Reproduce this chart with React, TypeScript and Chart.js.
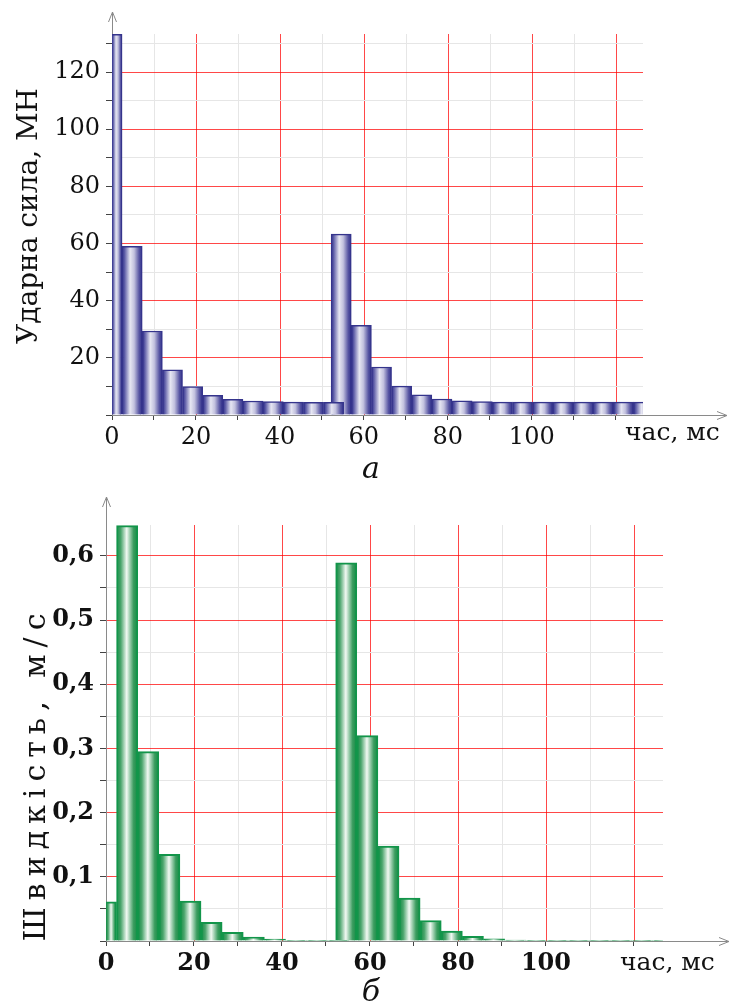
import React, { useEffect, useRef } from 'react';
import { Chart, registerables } from 'chart.js';

Chart.register(...registerables);

// ---- data (time in ms, bar centres) ----
const centersFirst = [0, 4.8, 9.6, 14.4, 19.2, 24, 28.8, 33.6, 38.4, 43.2, 48, 52.8];
const centersSecond = [54.6, 59.4, 64.2, 69.0, 73.8, 78.6, 83.4, 88.2, 93.0, 97.8, 102.6, 107.4, 112.2, 117.0, 121.8, 126.6];

// Ударна сила, МН
const forceFirst = [133.2, 59.0, 29.4, 15.8, 9.9, 6.9, 5.5, 4.9, 4.7, 4.5, 4.4, 4.4];
const forceSecond = [63.3, 31.4, 16.8, 10.1, 7.1, 5.6, 5.0, 4.7, 4.5, 4.5, 4.5, 4.5, 4.5, 4.5, 4.5, 4.5];

// Швидкість, м/с
const speedFirst = [0.061, 0.647, 0.295, 0.135, 0.062, 0.029, 0.0135, 0.006, 0.003, 0.0012, 0.0004, 0.0002];
const speedSecond = [0.589, 0.32, 0.148, 0.067, 0.032, 0.0155, 0.0073, 0.0035, 0.0015, 0.0006, 0.0003, 0.0002, 0.0002, 0.0002, 0.0002, 0.0002];

const xTickLabels = ['0', '20', '40', '60', '80', '100'];
const forceTickLabels = ['20', '40', '60', '80', '100', '120'];
const speedTickLabels = ['0,1', '0,2', '0,3', '0,4', '0,5', '0,6'];

const RED = 'rgba(255,0,0,0.72)';
const GRAY = '#e6e6e6';
const AXIS = '#8a8a8a';
const TICK = '#444';

type Spec = {
  width: number;
  height: number;
  area: { left: number; right: number; top: number; bottom: number };
  xMax: number;
  yMax: number;
  yStep: number;
  yFormat: (v: number) => string;
  yLabels: string[];
  first: number[];
  second: number[];
  border: string;
  borderWidth: number;
  stops: [number, string][];
  tickFont: any;
  title: string;
  titleFont: string;
  titleSpacing: string;
  titleX: number;
  titleY: number;
  caption: string;
  captionX: number;
  captionY: number;
  unitX: number;
  unitY: number;
  unitFont: string;
  arrowTop: number;
  arrowRight: number;
};

function buildConfig(s: Spec): any {
  const step = centersFirst[1] - centersFirst[0];
  const fill = (ctx: any) => {
    const fallback = s.stops[2][1];
    if (ctx.type !== 'data' || !ctx.raw) return fallback;
    const sc = ctx.chart.scales && ctx.chart.scales.x;
    if (!sc) return fallback;
    const p0 = sc.getPixelForValue(0);
    const p1 = sc.getPixelForValue(step);
    const cx = sc.getPixelForValue(ctx.raw.x);
    if (![p0, p1, cx].every((v) => Number.isFinite(v)) || p1 - p0 <= 0) return fallback;
    const half = (p1 - p0) / 2;
    const left = Math.max(cx - half, p0);
    const g = ctx.chart.ctx.createLinearGradient(left, 0, cx + half, 0);
    for (const [o, c] of s.stops) g.addColorStop(o, c);
    return g;
  };
  const dsCommon = {
    type: 'bar',
    backgroundColor: fill,
    borderColor: s.border,
    borderWidth: s.borderWidth,
    categoryPercentage: 1,
    barPercentage: 1,
    grouped: false,
    clip: { left: 0, right: 0, top: 4, bottom: 4 },
  };
  const xTickValue = (v: number) => Math.round(v);
  const yIdx = (v: number) => Math.round(v / s.yStep);

  // vertical grid lines, taken from the x scale's own ticks
  const vgrid = {
    id: 'vgrid',
    beforeDraw(chart: any) {
      const sc = chart.scales.x;
      const a = chart.chartArea;
      if (!sc || !a) return;
      const { ctx } = chart;
      ctx.save();
      ctx.lineWidth = 1;
      for (const pass of [false, true]) {
        for (const t of sc.ticks) {
          const v = xTickValue(t.value);
          if (v === 0) continue;
          const major = v % 20 === 0;
          if (major !== pass) continue;
          const px = Math.round(sc.getPixelForValue(t.value)) + 0.5;
          ctx.strokeStyle = major ? RED : GRAY;
          ctx.beginPath();
          ctx.moveTo(px, a.top);
          ctx.lineTo(px, a.bottom);
          ctx.stroke();
        }
      }
      ctx.restore();
    },
  };

  const decor = {
    id: 'decor',
    afterDraw(chart: any) {
      const { ctx, chartArea: a } = chart;
      ctx.save();
      ctx.strokeStyle = AXIS;
      ctx.lineWidth = 1;
      const lx = Math.round(a.left) + 0.5;
      const by = Math.round(a.bottom) + 0.5;
      ctx.beginPath();
      ctx.moveTo(lx, a.top);
      ctx.lineTo(lx, s.arrowTop);
      ctx.moveTo(lx - 4, s.arrowTop + 10);
      ctx.lineTo(lx, s.arrowTop);
      ctx.lineTo(lx + 4, s.arrowTop + 10);
      ctx.moveTo(a.right, by);
      ctx.lineTo(s.arrowRight, by);
      ctx.moveTo(s.arrowRight - 10, by - 4);
      ctx.lineTo(s.arrowRight, by);
      ctx.lineTo(s.arrowRight - 10, by + 4);
      ctx.stroke();

      ctx.fillStyle = '#111';
      ctx.save();
      ctx.translate(s.titleX, s.titleY);
      ctx.rotate(-Math.PI / 2);
      ctx.font = s.titleFont;
      (ctx as any).letterSpacing = s.titleSpacing;
      ctx.textAlign = 'center';
      ctx.textBaseline = 'middle';
      ctx.fillText(s.title, 0, 0);
      ctx.restore();
      ctx.font = s.unitFont;
      ctx.textAlign = 'left';
      ctx.textBaseline = 'middle';
      ctx.fillText('час, мс', s.unitX, s.unitY);
      ctx.font = 'italic 30px "DejaVu Serif"';
      ctx.textAlign = 'center';
      ctx.fillText(s.caption, s.captionX, s.captionY);
      ctx.restore();
    },
  };

  return {
    type: 'bar',
    data: {
      datasets: [
        { ...dsCommon, xAxisID: 'x', data: centersFirst.map((x, i) => ({ x, y: s.first[i] })) },
        { ...dsCommon, xAxisID: 'x2', data: centersSecond.map((x, i) => ({ x, y: s.second[i] })) },
      ],
    },
    options: {
      animation: false,
      responsive: false,
      devicePixelRatio: 1,
      events: [],
      layout: { padding: { top: s.area.top, right: s.width - s.area.right, left: 0, bottom: 0 } },
      plugins: { legend: { display: false }, tooltip: { enabled: false } },
      scales: {
        x: {
          type: 'linear',
          min: 0,
          max: s.xMax,
          offset: false,
          afterFit: (sc: any) => {
            sc.height = s.height - s.area.bottom;
          },
          grid: {
            offset: false,
            drawOnChartArea: false,
            drawTicks: true,
            lineWidth: 1,
            tickLength: 5,
            tickColor: TICK,
            color: TICK,
          },
          border: { display: true, color: AXIS, width: 1 },
          ticks: {
            stepSize: 10,
            includeBounds: false,
            autoSkip: false,
            maxRotation: 0,
            padding: 3,
            color: '#111',
            font: s.tickFont,
            callback: (v: number) => {
              const t = String(xTickValue(v));
              return xTickLabels.includes(t) ? t : '';
            },
          },
        },
        x2: {
          type: 'linear',
          display: false,
          min: 0,
          max: s.xMax,
          offset: false,
          grid: { offset: false, display: false, drawOnChartArea: false, drawTicks: false },
          border: { display: false },
          ticks: { display: false },
        },
        y: {
          type: 'linear',
          min: 0,
          max: s.yMax,
          afterFit: (sc: any) => {
            sc.width = s.area.left;
          },
          grid: {
            lineWidth: 1,
            tickLength: 6,
            tickColor: TICK,
            color: (c: any) => {
              const i = yIdx(c.tick.value);
              if (i === 0) return 'rgba(0,0,0,0)';
              return i % 2 === 0 ? RED : GRAY;
            },
          },
          border: { display: true, color: AXIS, width: 1 },
          ticks: {
            stepSize: s.yStep,
            includeBounds: false,
            autoSkip: false,
            padding: 6,
            color: '#111',
            font: s.tickFont,
            callback: (v: number) => {
              const i = yIdx(v);
              if (i % 2 !== 0) return '';
              const t = s.yFormat(i * s.yStep);
              return s.yLabels.includes(t) ? t : '';
            },
          },
        },
      },
    },
    plugins: [vgrid, decor],
  };
}

const forceSpec: Spec = {
  width: 731,
  height: 490,
  area: { left: 112, right: 643, top: 34, bottom: 415 },
  xMax: 126.5,
  yMax: 133.3,
  yStep: 10,
  yFormat: (v) => String(Math.round(v)),
  yLabels: forceTickLabels,
  first: forceFirst,
  second: forceSecond,
  border: '#35348c',
  borderWidth: 1.5,
  stops: [
    [0, '#30308a'],
    [0.12, '#5b5aa6'],
    [0.4, '#e6e6f2'],
    [0.6, '#c2c1de'],
    [0.85, '#5654a2'],
    [1, '#30308a'],
  ],
  tickFont: { family: 'DejaVu Serif', size: 24 },
  title: 'Ударна сила, МН',
  titleFont: '28px "DejaVu Serif"',
  titleSpacing: '0px',
  titleX: 30,
  titleY: 216,
  caption: 'а',
  captionX: 371,
  captionY: 470,
  unitX: 625,
  unitY: 433,
  unitFont: '25px "DejaVu Serif"',
  arrowTop: 12,
  arrowRight: 727,
};

const speedSpec: Spec = {
  width: 731,
  height: 517,
  area: { left: 106, right: 663, top: 35, bottom: 451 },
  xMax: 126.6,
  yMax: 0.648,
  yStep: 0.05,
  yFormat: (v) => v.toFixed(1).replace('.', ','),
  yLabels: speedTickLabels,
  first: speedFirst,
  second: speedSecond,
  border: '#12954a',
  borderWidth: 2,
  stops: [
    [0, '#128a42'],
    [0.2, '#4aa56c'],
    [0.48, '#f2f9f3'],
    [0.8, '#3c9d60'],
    [1, '#128a42'],
  ],
  tickFont: { family: 'DejaVu Serif', size: 24, weight: 'bold' },
  title: 'Швидкість, м/с',
  titleFont: '30px "DejaVu Serif"',
  titleSpacing: '7px',
  titleX: 37,
  titleY: 284,
  caption: 'б',
  captionX: 371,
  captionY: 503,
  unitX: 620,
  unitY: 473,
  unitFont: '25px "DejaVu Serif"',
  arrowTop: 7,
  arrowRight: 729,
};

function ChartBox({ spec }: { spec: Spec }) {
  const ref = useRef<HTMLCanvasElement | null>(null);
  useEffect(() => {
    if (!ref.current) return;
    const chart = new Chart(ref.current, buildConfig(spec));
    return () => chart.destroy();
  }, [spec]);
  return (
    <canvas
      ref={ref}
      width={spec.width}
      height={spec.height}
      style={{ display: 'block', width: spec.width, height: spec.height }}
    />
  );
}

export default function App() {
  return (
    <div style={{ position: 'absolute', left: 0, top: 0, width: 731, height: 1007, background: '#fff' }}>
      <ChartBox spec={forceSpec} />
      <ChartBox spec={speedSpec} />
    </div>
  );
}
